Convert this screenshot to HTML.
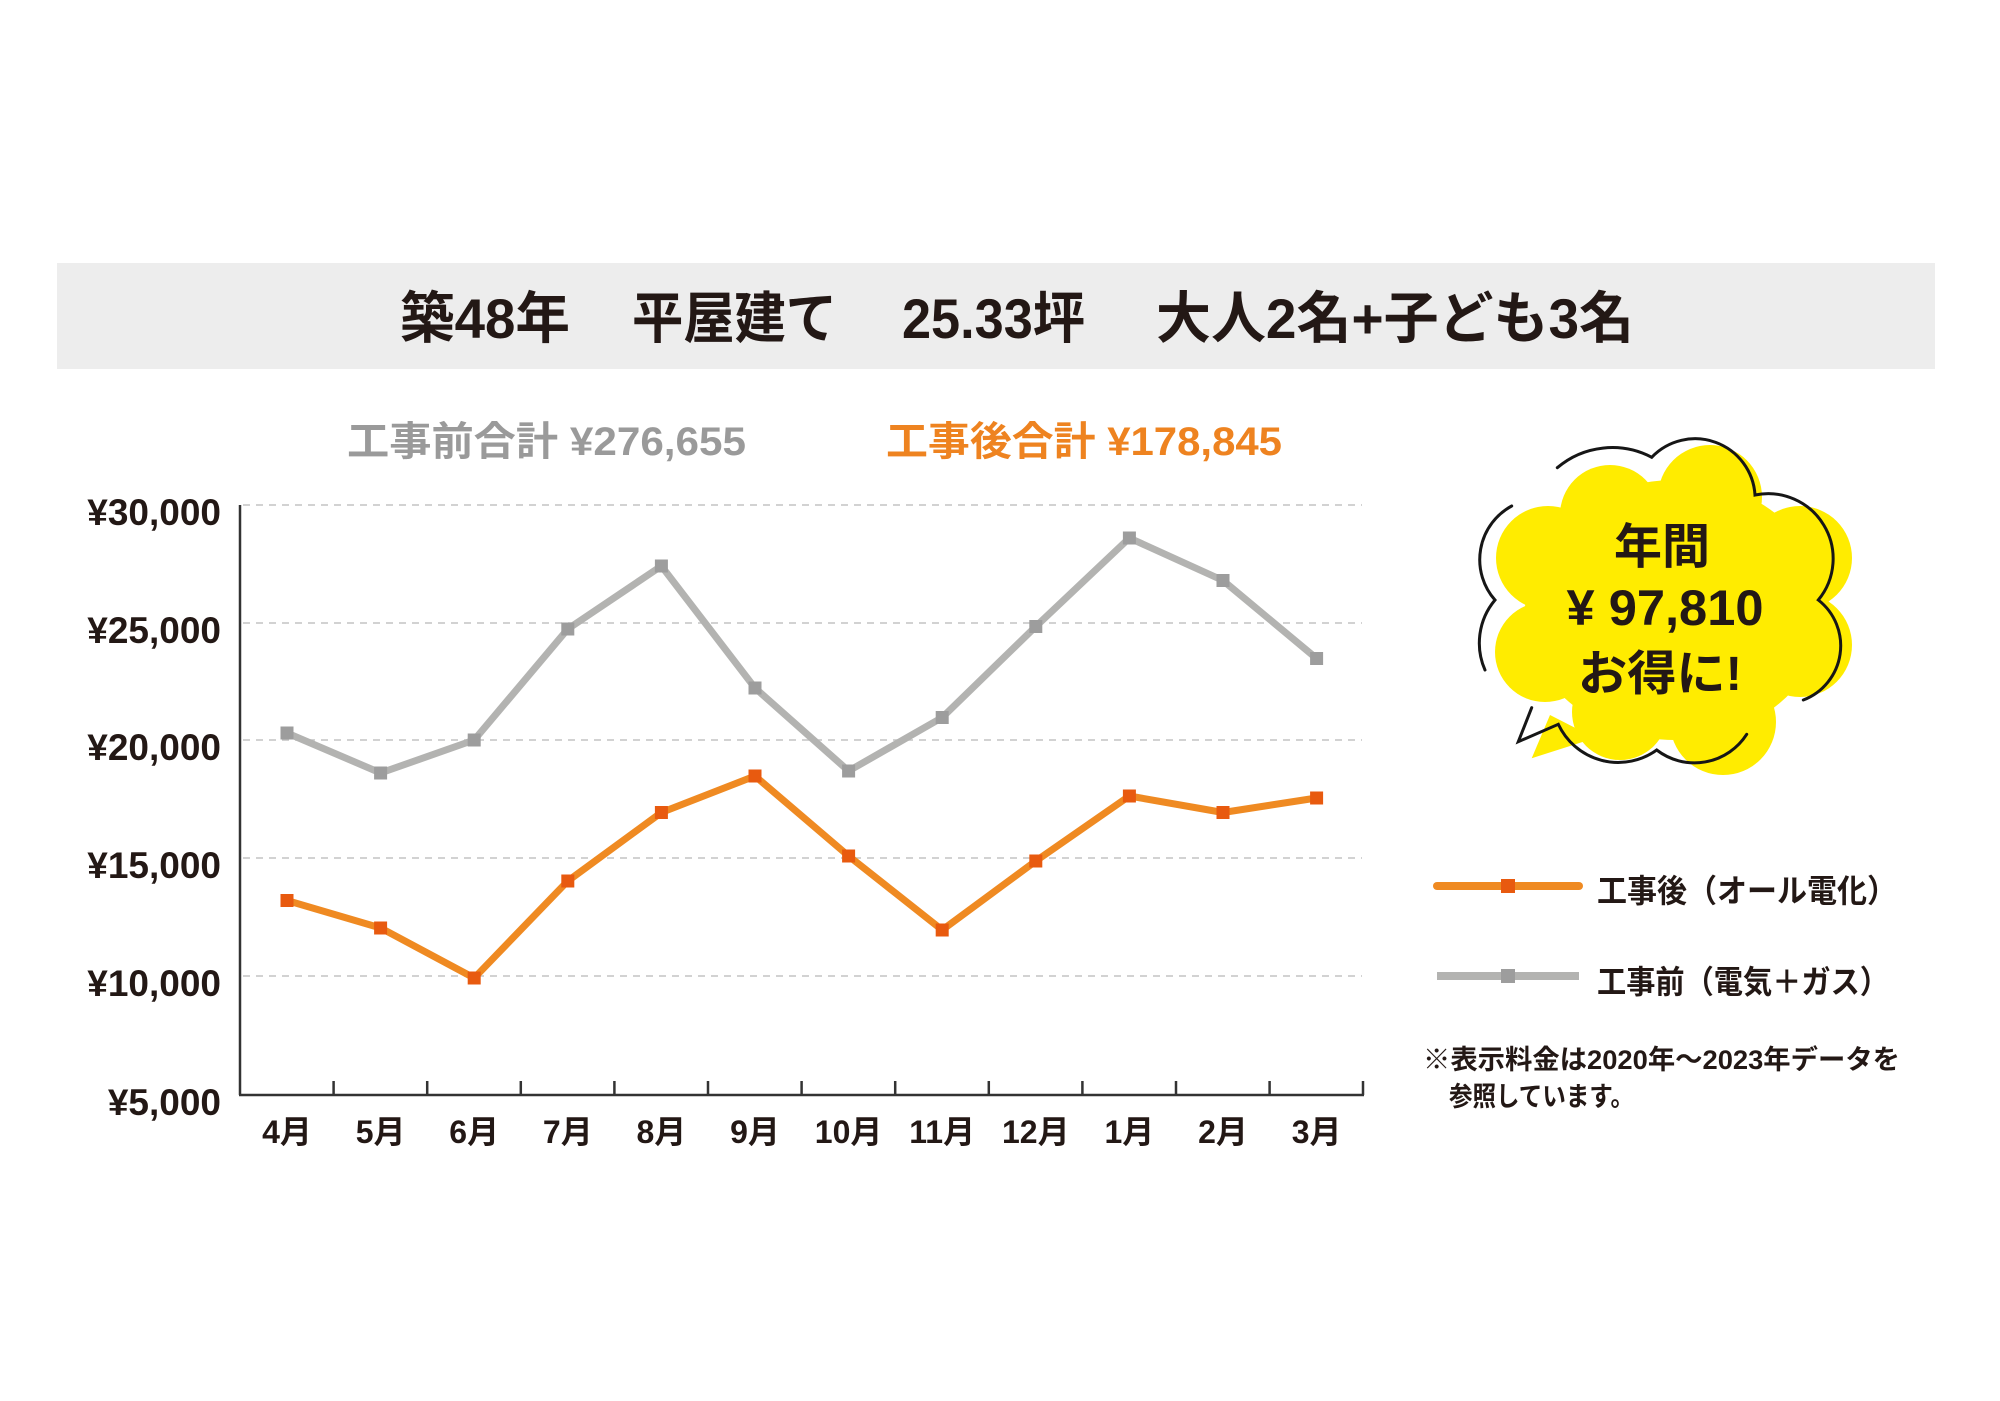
<!DOCTYPE html>
<html>
<head>
<meta charset="utf-8">
<style>
  html,body{margin:0;padding:0;background:#ffffff;}
  svg{display:block;}
  text{font-family:"Liberation Sans","Noto Sans CJK JP",sans-serif;}
</style>
</head>
<body>
<svg width="2000" height="1401" viewBox="0 0 2000 1401" xmlns="http://www.w3.org/2000/svg">
  <rect x="0" y="0" width="2000" height="1401" fill="#ffffff"/>

  <!-- Title band -->
  <rect x="57" y="263" width="1878" height="106" fill="#ededed"/>
  <g fill="#231815" font-size="56" font-weight="700">
    <text x="400" y="338" textLength="170" lengthAdjust="spacingAndGlyphs">築48年</text>
    <text x="632" y="338" textLength="205" lengthAdjust="spacingAndGlyphs">平屋建て</text>
    <text x="902" y="338" textLength="183" lengthAdjust="spacingAndGlyphs">25.33坪</text>
    <text x="1156" y="338" textLength="478" lengthAdjust="spacingAndGlyphs">大人2名+子ども3名</text>
  </g>

  <!-- Totals -->
  <text x="347" y="455" font-size="40" font-weight="700" fill="#9a9a9a" textLength="399" lengthAdjust="spacingAndGlyphs">工事前合計 ¥276,655</text>
  <text x="886" y="455" font-size="40" font-weight="700" fill="#ee8320" textLength="396" lengthAdjust="spacingAndGlyphs">工事後合計 ¥178,845</text>

  <!-- Gridlines -->
  <g stroke="#c4c4c4" stroke-width="1.6" stroke-dasharray="7 6">
    <line x1="243" y1="505" x2="1362" y2="505"/>
    <line x1="243" y1="623" x2="1362" y2="623"/>
    <line x1="243" y1="740" x2="1362" y2="740"/>
    <line x1="243" y1="858" x2="1362" y2="858"/>
    <line x1="243" y1="976" x2="1362" y2="976"/>
  </g>

  <!-- Axes -->
  <g stroke="#333333" stroke-width="2.5" fill="none">
    <line x1="240" y1="505" x2="240" y2="1095"/>
    <line x1="239" y1="1095" x2="1364" y2="1095"/>
    <line x1="333.6" y1="1081" x2="333.6" y2="1095"/>
    <line x1="427.2" y1="1081" x2="427.2" y2="1095"/>
    <line x1="520.8" y1="1081" x2="520.8" y2="1095"/>
    <line x1="614.4" y1="1081" x2="614.4" y2="1095"/>
    <line x1="708" y1="1081" x2="708" y2="1095"/>
    <line x1="801.6" y1="1081" x2="801.6" y2="1095"/>
    <line x1="895.2" y1="1081" x2="895.2" y2="1095"/>
    <line x1="988.8" y1="1081" x2="988.8" y2="1095"/>
    <line x1="1082.4" y1="1081" x2="1082.4" y2="1095"/>
    <line x1="1176" y1="1081" x2="1176" y2="1095"/>
    <line x1="1269.6" y1="1081" x2="1269.6" y2="1095"/>
    <line x1="1363" y1="1081" x2="1363" y2="1095"/>
  </g>

  <!-- Y labels -->
  <g fill="#231815" font-size="37" font-weight="700" text-anchor="end">
    <text x="221" y="525">¥30,000</text>
    <text x="221" y="643">¥25,000</text>
    <text x="221" y="760">¥20,000</text>
    <text x="221" y="878">¥15,000</text>
    <text x="221" y="996">¥10,000</text>
    <text x="221" y="1115">¥5,000</text>
  </g>

  <!-- X labels -->
  <g fill="#231815" font-size="32" font-weight="700" text-anchor="middle">
    <text x="287" y="1143">4月</text>
    <text x="380.6" y="1143">5月</text>
    <text x="474.2" y="1143">6月</text>
    <text x="567.8" y="1143">7月</text>
    <text x="661.4" y="1143">8月</text>
    <text x="755" y="1143">9月</text>
    <text x="848.6" y="1143">10月</text>
    <text x="942.2" y="1143">11月</text>
    <text x="1035.8" y="1143">12月</text>
    <text x="1129.4" y="1143">1月</text>
    <text x="1223" y="1143">2月</text>
    <text x="1316.6" y="1143">3月</text>
  </g>

  <!-- Gray series (before) -->
  <polyline fill="none" stroke="#b3b3b1" stroke-width="7" stroke-linejoin="round"
    points="287,733 380.6,773 474.2,740 567.8,629 661.4,566 755,688 848.6,771 942.2,717.5 1035.8,626.5 1129.4,538 1223,580.5 1316.6,658.5"/>
  <g fill="#9d9d9d">
    <rect x="280.5" y="726.5" width="13" height="13"/>
    <rect x="374.1" y="766.5" width="13" height="13"/>
    <rect x="467.7" y="733.5" width="13" height="13"/>
    <rect x="561.3" y="622.5" width="13" height="13"/>
    <rect x="654.9" y="559.5" width="13" height="13"/>
    <rect x="748.5" y="681.5" width="13" height="13"/>
    <rect x="842.1" y="764.5" width="13" height="13"/>
    <rect x="935.7" y="711" width="13" height="13"/>
    <rect x="1029.3" y="620" width="13" height="13"/>
    <rect x="1122.9" y="531.5" width="13" height="13"/>
    <rect x="1216.5" y="574" width="13" height="13"/>
    <rect x="1310.1" y="652" width="13" height="13"/>
  </g>

  <!-- Orange series (after) -->
  <polyline fill="none" stroke="#ef8a22" stroke-width="7" stroke-linejoin="round"
    points="287,900.5 380.6,928 474.2,978 567.8,881 661.4,812.5 755,776 848.6,856 942.2,930 1035.8,861 1129.4,796 1223,812.5 1316.6,798"/>
  <g fill="#e85a0f">
    <rect x="280.5" y="894" width="13" height="13"/>
    <rect x="374.1" y="921.5" width="13" height="13"/>
    <rect x="467.7" y="971.5" width="13" height="13"/>
    <rect x="561.3" y="874.5" width="13" height="13"/>
    <rect x="654.9" y="806" width="13" height="13"/>
    <rect x="748.5" y="769.5" width="13" height="13"/>
    <rect x="842.1" y="849.5" width="13" height="13"/>
    <rect x="935.7" y="923.5" width="13" height="13"/>
    <rect x="1029.3" y="854.5" width="13" height="13"/>
    <rect x="1122.9" y="789.5" width="13" height="13"/>
    <rect x="1216.5" y="806" width="13" height="13"/>
    <rect x="1310.1" y="791.5" width="13" height="13"/>
  </g>

  <!-- Speech bubble: yellow cloud -->
  <g fill="#ffec00">
    <circle cx="1610" cy="515" r="50"/>
    <circle cx="1710" cy="497" r="52"/>
    <circle cx="1800" cy="558" r="52"/>
    <circle cx="1800" cy="645" r="52"/>
    <circle cx="1723" cy="722" r="53"/>
    <circle cx="1620" cy="712" r="48"/>
    <circle cx="1545" cy="652" r="50"/>
    <circle cx="1548" cy="558" r="52"/>
    <ellipse cx="1675" cy="610" rx="150" ry="130"/>
    <polygon points="1531.7,758.3 1550,715 1595,738"/>
  </g>
  <!-- Speech bubble: outline -->
  <g fill="none" stroke="#161616" stroke-width="3" stroke-linecap="round" stroke-linejoin="miter">
    <path d="M1557.3,467.7 A85,85 0 0 1 1651.7,457.3 A60,60 0 0 1 1755,495 A65,65 0 0 1 1818.3,600 A58,58 0 0 1 1803.3,700"/>
    <path d="M1511.7,506 A61,61 0 0 0 1495,600 A67,67 0 0 0 1485,670"/>
    <path d="M1531.7,707.7 L1518.3,741.7 L1558.3,724.3 A66,66 0 0 0 1656.7,750 A62,62 0 0 0 1746.7,734.3"/>
  </g>
  <g fill="#231815" font-size="48" font-weight="700" text-anchor="middle">
    <text x="1662" y="563">年間</text>
    <text x="1665" y="625" font-size="50" textLength="197" lengthAdjust="spacingAndGlyphs">¥ 97,810</text>
    <text x="1660" y="690" textLength="164" lengthAdjust="spacingAndGlyphs">お得に!</text>
  </g>

  <!-- Legend -->
  <line x1="1437" y1="886" x2="1579" y2="886" stroke="#ef8a22" stroke-width="8" stroke-linecap="round"/>
  <rect x="1501" y="879" width="14" height="14" fill="#e85a0f"/>
  <text x="1597" y="902" font-size="32" font-weight="700" fill="#231815" textLength="300" lengthAdjust="spacingAndGlyphs">工事後（オール電化）</text>

  <line x1="1437" y1="976" x2="1579" y2="976" stroke="#b3b3b1" stroke-width="8"/>
  <rect x="1501" y="969" width="14" height="14" fill="#9d9d9d"/>
  <text x="1597" y="993" font-size="32" font-weight="700" fill="#231815" textLength="292" lengthAdjust="spacingAndGlyphs">工事前（電気＋ガス）</text>

  <!-- Note -->
  <text x="1423" y="1069" font-size="27" font-weight="700" fill="#231815" textLength="477" lengthAdjust="spacingAndGlyphs">※表示料金は2020年～2023年データを</text>
  <text x="1449" y="1106" font-size="27" font-weight="700" fill="#231815" textLength="185" lengthAdjust="spacingAndGlyphs">参照しています。</text>
</svg>
</body>
</html>
